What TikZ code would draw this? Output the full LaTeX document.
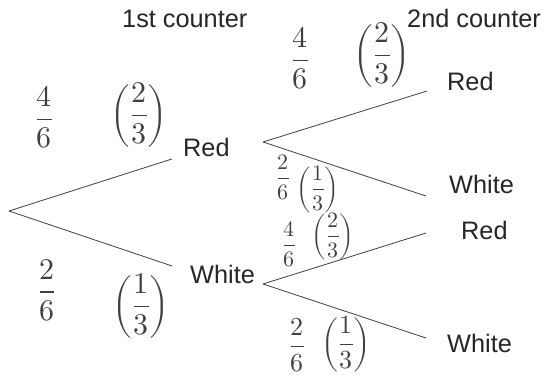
\documentclass[tikz,border=0pt]{standalone}
\usepackage{fontspec}
\setmainfont{Liberation Sans}
\usepackage{unicode-math}
\begin{document}
\begin{tikzpicture}[x=1pt,y=-1pt,
  lbl/.style={anchor=base west,inner sep=0pt,font=\fontsize{25.3}{29}\selectfont,text=black!85},
  hw/.style={inner sep=0pt,text=black!75,font=\fontsize{30}{34}\selectfont},
  hws/.style={inner sep=0pt,text=black!75,font=\fontsize{22}{26}\selectfont},
  branch/.style={draw=black!75,line width=0.8pt}]
\useasboundingbox[fill=white] (0,0) rectangle (548,379);
% headings
\node[lbl] (h1) at (122,28) {1st counter};
\node[lbl] (h2) at (407,28) {2nd counter};
% labels
\node[lbl] (r1) at (183,157) {Red};
\node[lbl] (w1) at (190,283) {White};
\node[lbl] (rr) at (447,91) {Red};
\node[lbl] (rw) at (449,194) {White};
\node[lbl] (wr) at (461,240) {Red};
\node[lbl] (ww) at (447,352) {White};
% branch points
\coordinate (root) at (9,211);
\coordinate (e1) at (172,159);
\coordinate (e2) at (172,266);
\coordinate (vr) at (263,142);
\coordinate (vw) at (263,284);
\coordinate (err) at (427,91);
\coordinate (erw) at (426,196);
\coordinate (ewr) at (426,233);
\coordinate (eww) at (426,338);
\draw[branch] (root) -- (e1);
\draw[branch] (root) -- (e2);
\draw[branch] (vr) -- (err);
\draw[branch] (vr) -- (erw);
\draw[branch] (vw) -- (ewr);
\draw[branch] (vw) -- (eww);
% handwritten probabilities
\node[hw] (p1a) at (44,117) {$\displaystyle\frac{4}{6}$};
\node[hw] (p1b) at (139,115) {$\displaystyle\left(\frac{2}{3}\right)$};
\node[hw] (p2a) at (47,290) {$\displaystyle\frac{2}{6}$};
\node[hw] (p2b) at (141,306) {$\displaystyle\left(\frac{1}{3}\right)$};
\node[hw] (p3a) at (300,58) {$\displaystyle\frac{4}{6}$};
\node[hw] (p3b) at (382,55) {$\displaystyle\left(\frac{2}{3}\right)$};
\node[hws] (p4a) at (283,177) {$\displaystyle\frac{2}{6}$};
\node[hws] (p4b) at (318,189) {$\displaystyle\left(\frac{1}{3}\right)$};
\node[hws] (p5a) at (289,244) {$\displaystyle\frac{4}{6}$};
\node[hws] (p5b) at (333,236) {$\displaystyle\left(\frac{2}{3}\right)$};
\node[hws,font=\fontsize{26}{30}\selectfont] (p6a) at (297,345) {$\displaystyle\frac{2}{6}$};
\node[hws,font=\fontsize{26}{30}\selectfont] (p6b) at (346,344) {$\displaystyle\left(\frac{1}{3}\right)$};
\end{tikzpicture}
\end{document}
